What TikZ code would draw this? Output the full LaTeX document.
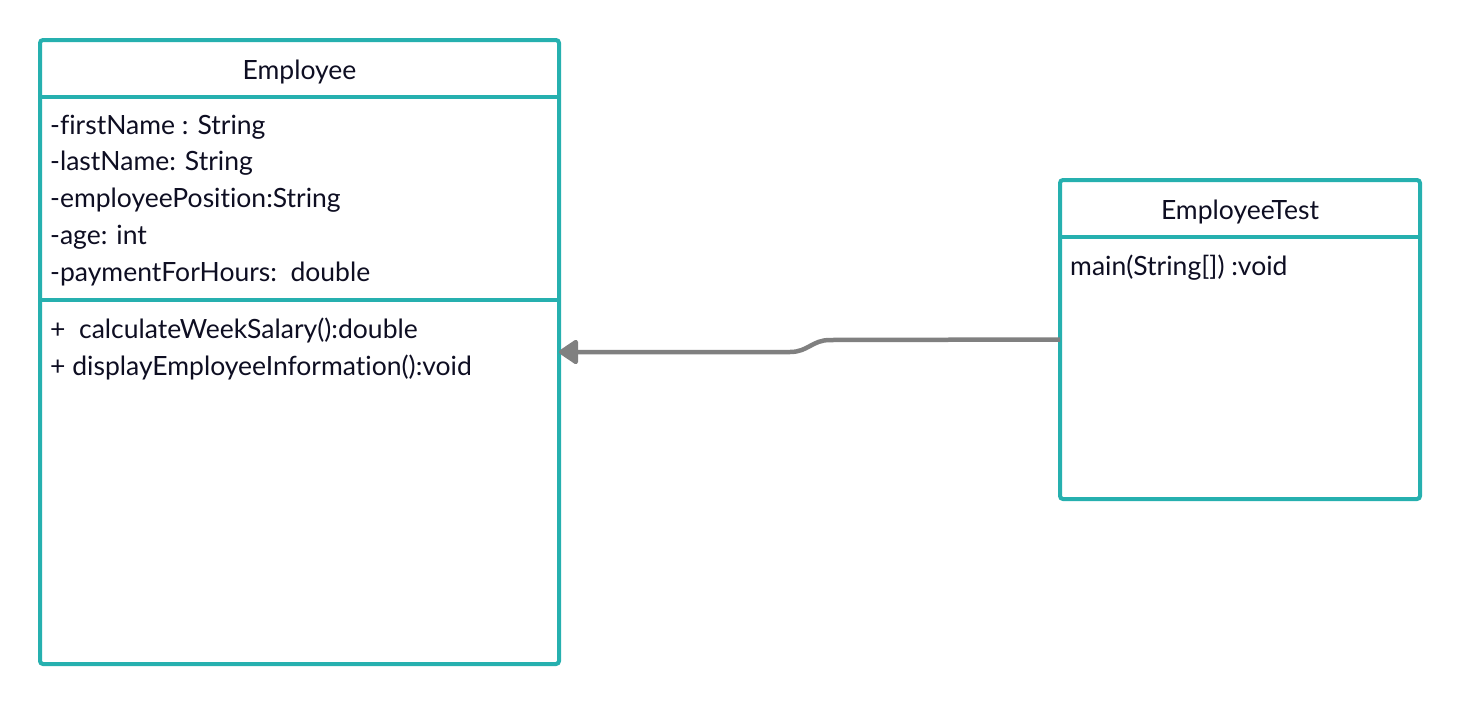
\documentclass[tikz,border=0pt]{standalone}
\usepackage{fontspec}
\setmainfont{Lato}[Ligatures=NoCommon]
\usetikzlibrary{arrows.meta}
\definecolor{classteal}{RGB}{38,176,175}
\definecolor{linkgray}{RGB}{128,128,128}
\definecolor{inktext}{RGB}{14,14,34}
\begin{document}
\begin{tikzpicture}[x=1pt,y=-1pt,
  classbox/.style={draw=classteal,line width=4pt,rounded corners=3pt,fill=white,
    anchor=north west,inner sep=0pt,outer sep=0pt},
  divider/.style={draw=classteal,line width=4pt},
  title/.style={font=\fontsize{26.5}{26.5}\selectfont,text=inktext,anchor=base,inner sep=0pt},
  member/.style={font=\fontsize{26.5}{26.5}\selectfont,text=inktext,anchor=base west,inner sep=0pt},
  link/.style={draw=linkgray,line width=4.5pt,line join=round,
    -{Triangle[length=21pt,width=27pt,line join=round]}}]
\useasboundingbox (0,0) rectangle (1460,705);

% Employee class
\node[classbox,minimum width=519pt,minimum height=624pt] (emp) at (40,40) {};
\draw[divider] (40,97) -- (559,97);
\draw[divider] (40,300) -- (559,300);
\node[title] (empname) at (299.5,79) {Employee};
\node[member] (a1) at (50,134) {-firstName : String};
\node[member] (a2) at (50,170) {-lastName: String};
\node[member] (a3) at (50,207) {-employeePosition:String};
\node[member] (a4) at (50,244) {-age: int};
\node[member] (a5) at (50,281) {-paymentForHours:\ \ double};
\node[member] (m1) at (50,338) {+\ \ calculateWeekSalary():double};
\node[member] (m2) at (50,375) {+ displayEmployeeInformation():void};

% EmployeeTest class
\node[classbox,minimum width=360pt,minimum height=319pt] (test) at (1060,180) {};
\draw[divider] (1060,237) -- (1420,237);
\node[title] (testname) at (1240,219) {EmployeeTest};
\node[member] (t1) at (1070,275) {main(String[]) :void};

% dependency from EmployeeTest to Employee
\draw[link] (test.west) -- (830,340) .. controls (812,340) and (808,352) .. (790,352) -- (emp.east);
\end{tikzpicture}
\end{document}
